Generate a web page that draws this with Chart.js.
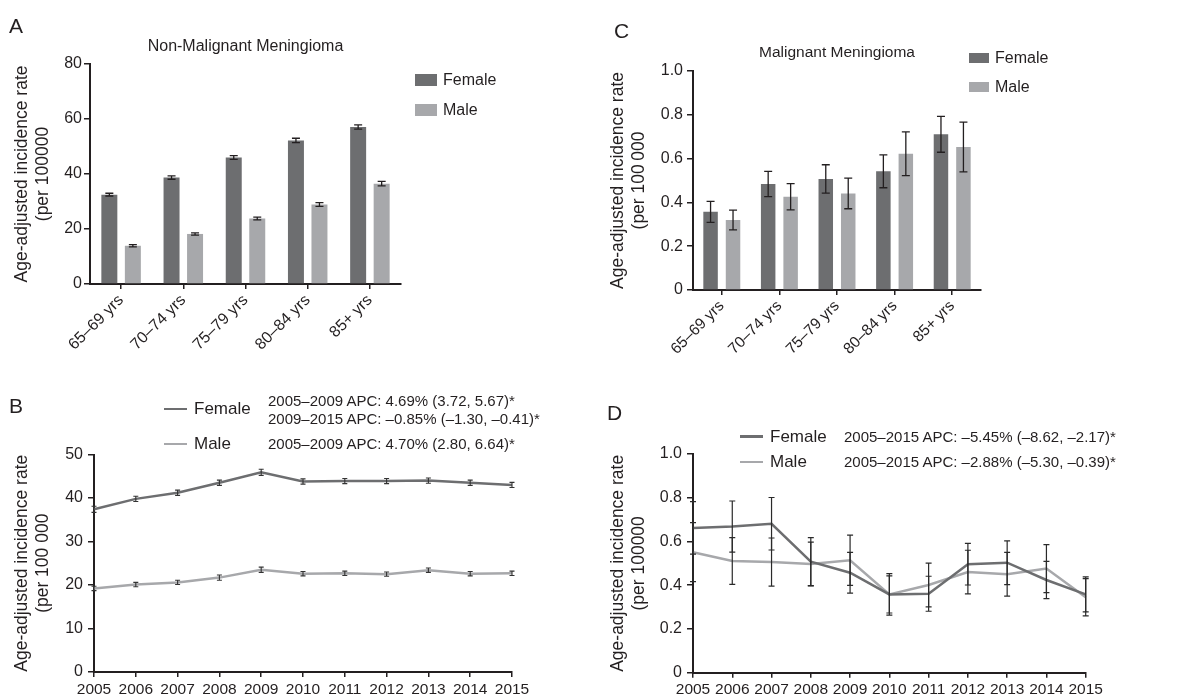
<!DOCTYPE html>
<html>
<head>
<meta charset="utf-8">
<script src="https://cdn.jsdelivr.net/npm/chart.js@4.4.1/dist/chart.umd.min.js"></script>
<style>
body { margin: 0; background: #fff; font-family: "Liberation Sans", Arial, sans-serif; }
#wrap { position: relative; width: 1177px; height: 700px; overflow: hidden; }
canvas { position: absolute; }
.t { position: absolute; transform: translateY(-50%); line-height: 1.2; white-space: nowrap; color: #231f20; }
.letter { position: absolute; font-size: 21px; line-height: 1; color: #231f20; }
.box { position: absolute; }
</style>
</head>
<body>
<div id="wrap">
  <canvas id="cA" width="580" height="380" style="left:0;top:0"></canvas>
  <canvas id="cC" width="597" height="380" style="left:580px;top:0"></canvas>
  <canvas id="cB" width="580" height="320" style="left:0;top:380px"></canvas>
  <canvas id="cD" width="597" height="320" style="left:580px;top:380px"></canvas>
  <div class="letter" style="left:9px;top:15px">A</div>
  <div class="letter" style="left:614px;top:20px">C</div>
  <div class="letter" style="left:9px;top:395px">B</div>
  <div class="letter" style="left:607px;top:402px">D</div>
</div>
<script>
// categories
var ageGroups = ['65–69 yrs', '70–74 yrs', '75–79 yrs', '80–84 yrs', '85+ yrs'];
var years = ['2005', '2006', '2007', '2008', '2009', '2010', '2011', '2012', '2013', '2014', '2015'];
var seriesNames = ['Female', 'Male'];

// A: non-malignant by age
var nonMalFemale = [32.5, 38.7, 46.0, 52.2, 57.1];
var nonMalMale = [13.9, 18.2, 23.8, 28.9, 36.5];
var nonMalFemaleErr = [0.5, 0.6, 0.7, 0.8, 0.8];
var nonMalMaleErr = [0.4, 0.4, 0.5, 0.7, 0.8];

// C: malignant by age
var malFemale = [0.357, 0.484, 0.507, 0.542, 0.711];
var malMale = [0.320, 0.426, 0.441, 0.622, 0.653];
var malFemaleErr = [0.048, 0.058, 0.065, 0.075, 0.082];
var malMaleErr = [0.045, 0.060, 0.070, 0.100, 0.114];

// B: non-malignant trend
var trendNonMalFemale = [37.4, 39.8, 41.2, 43.5, 45.9, 43.8, 43.9, 43.9, 44.0, 43.5, 43.0];
var trendNonMalMale = [19.2, 20.1, 20.6, 21.7, 23.5, 22.6, 22.7, 22.5, 23.4, 22.6, 22.7];
var trendNonMalFemaleErr = [0.7, 0.6, 0.6, 0.6, 0.7, 0.6, 0.6, 0.6, 0.6, 0.6, 0.6];
var trendNonMalMaleErr = [0.5, 0.5, 0.5, 0.6, 0.6, 0.5, 0.5, 0.5, 0.5, 0.5, 0.5];

// D: malignant trend
var trendMalFemale = [0.662, 0.668, 0.681, 0.508, 0.457, 0.358, 0.361, 0.496, 0.503, 0.424, 0.358];
var trendMalMale = [0.551, 0.511, 0.506, 0.497, 0.514, 0.358, 0.401, 0.460, 0.450, 0.476, 0.345];
var trendMalFemaleErr = [0.120, 0.117, 0.120, 0.110, 0.093, 0.085, 0.080, 0.095, 0.100, 0.085, 0.080];
var trendMalMaleErr = [0.135, 0.107, 0.110, 0.100, 0.115, 0.095, 0.100, 0.100, 0.100, 0.110, 0.085];

// tick labels
var ticksA = ['0', '20', '40', '60', '80'];
var ticksB = ['0', '10', '20', '30', '40', '50'];
var ticksFrac = ['0', '0.2', '0.4', '0.6', '0.8', '1.0'];

// APC notes
var apcB = [['2005–2009 APC: 4.69% (3.72, 5.67)*', '2009–2015 APC: –0.85% (–1.30, –0.41)*'], ['2005–2009 APC: 4.70% (2.80, 6.64)*']];
var apcD = [['2005–2015 APC: –5.45% (–8.62, –2.17)*'], ['2005–2015 APC: –2.88% (–5.30, –0.39)*']];

var yTitleA = ['Age-adjusted incidence rate', '(per 100000'];
var yTitleB = ['Age-adjusted incidence rate', '(per 100 000'];
var yTitleC = ['Age-adjusted incidence rate', '(per 100\u2009000'];
var yTitleD = ['Age-adjusted incidence rate', '(per 100000'];

var ink = '#231f20';
var femaleCol = '#6d6e70';
var maleCol = '#a7a8ab';

Chart.defaults.font.family = "'Liberation Sans', Arial, sans-serif";
Chart.defaults.color = ink;

// error bars drawn from the y scale
var errorBars = {
    id: 'errorBars',
    afterDatasetsDraw: function(chart, args, opts) {
        var ctx = chart.ctx, y = chart.scales.y;
        chart.data.datasets.forEach(function(ds, i) {
            if (!ds.errors) return;
            var meta = chart.getDatasetMeta(i);
            ctx.save();
            ctx.strokeStyle = opts.color;
            ctx.lineWidth = opts.width;
            meta.data.forEach(function(el, j) {
                var top = y.getPixelForValue(ds.data[j] + ds.errors[j]);
                var bot = y.getPixelForValue(ds.data[j] - ds.errors[j]);
                ctx.beginPath();
                ctx.moveTo(el.x, top); ctx.lineTo(el.x, bot);
                ctx.moveTo(el.x - opts.cap, top); ctx.lineTo(el.x + opts.cap, top);
                ctx.moveTo(el.x - opts.cap, bot); ctx.lineTo(el.x + opts.cap, bot);
                ctx.stroke();
            });
            ctx.restore();
        });
    }
};

// box = plot area inside the canvas: left, top, right, bottom
function makeChart(id, type, labels, datasets, box, cfg) {
    var cv = document.getElementById(id);
    var W = cv.width, H = cv.height;
    var opts = {
        responsive: false,
        animation: false,
        devicePixelRatio: 1,
        layout: { padding: { left: 0, top: cfg.title ? 0 : box[1], right: W - box[2], bottom: 0 } },
        plugins: {
            legend: { display: false },
            tooltip: { enabled: false },
            title: cfg.title ? {
                display: true, text: cfg.title, fullSize: false, color: ink,
                font: { size: cfg.titleSize, weight: 'normal' },
                padding: { top: cfg.titlePad, bottom: box[1] - cfg.titlePad - cfg.titleSize * 1.2 }
            } : { display: false },
            errorBars: cfg.err
        },
        scales: {
            x: {
                ticks: { maxRotation: cfg.rot, minRotation: cfg.rot, autoSkip: false, padding: cfg.xPad, font: { size: cfg.xSize } },
                grid: { offset: false, drawOnChartArea: false, tickLength: 5, color: ink, lineWidth: 1.5 },
                border: { color: ink, width: 2 },
                afterFit: function(s) { s.height = H - box[3]; }
            },
            y: {
                min: 0, max: cfg.max,
                ticks: { stepSize: cfg.step, padding: cfg.yPad, font: { size: 16 },
                    callback: function(v, i) { return cfg.ticks[i]; } },
                grid: { drawOnChartArea: false, tickLength: 6, color: ink, lineWidth: 1.5 },
                border: { color: ink, width: 2 },
                title: { display: true, text: cfg.yTitle, color: ink, font: { size: 17.5 }, padding: { top: cfg.yTitlePad, bottom: 0 } },
                afterFit: function(s) { s.width = box[0]; }
            }
        }
    };
    return new Chart(cv, { type: type, data: { labels: labels, datasets: datasets }, options: opts, plugins: [errorBars] });
}

function barSet(name, data, err, col, cat, bar) {
    return { label: name, data: data, errors: err, backgroundColor: col, borderWidth: 0, categoryPercentage: cat, barPercentage: bar };
}
function lineSet(name, data, err, col) {
    return { label: name, data: data, errors: err, borderColor: col, borderWidth: 2.5, pointRadius: 0, tension: 0, fill: false };
}

makeChart('cA', 'bar', ageGroups, [
    barSet(seriesNames[0], nonMalFemale, nonMalFemaleErr, femaleCol, 0.756, 0.68),
    barSet(seriesNames[1], nonMalMale, nonMalMaleErr, maleCol, 0.756, 0.68)
], [90, 64, 401, 284], { title: 'Non-Malignant Meningioma', titleSize: 16, titlePad: 37, max: 80, step: 20, ticks: ticksA,
    yTitle: yTitleA, yTitlePad: 12, yPad: 2, rot: 45, xPad: 2, xSize: 16, err: { color: ink, width: 1.3, cap: 4 } });

makeChart('cC', 'bar', ageGroups, [
    barSet(seriesNames[0], malFemale, malFemaleErr, femaleCol, 0.78, 0.645),
    barSet(seriesNames[1], malMale, malMaleErr, maleCol, 0.78, 0.645)
], [113, 71, 401, 290], { title: 'Malignant Meningioma', titleSize: 15.5, titlePad: 43.7, max: 1.0, step: 0.2, ticks: ticksFrac,
    yTitle: yTitleC, yTitlePad: 28, yPad: 4, rot: 45, xPad: 2, xSize: 15.5, err: { color: ink, width: 1.3, cap: 4 } });

makeChart('cB', 'line', years, [
    lineSet(seriesNames[0], trendNonMalFemale, trendNonMalFemaleErr, femaleCol),
    lineSet(seriesNames[1], trendNonMalMale, trendNonMalMaleErr, maleCol)
], [94, 74.5, 512, 292], { max: 50, step: 10, ticks: ticksB,
    yTitle: yTitleB, yTitlePad: 12, yPad: 5, rot: 0, xPad: 3, xSize: 15.5, err: { color: '#333', width: 1.1, cap: 2.5 } });

makeChart('cD', 'line', years, [
    lineSet(seriesNames[0], trendMalFemale, trendMalFemaleErr, femaleCol),
    lineSet(seriesNames[1], trendMalMale, trendMalMaleErr, maleCol)
], [113, 74, 505.7, 292.7], { max: 1.0, step: 0.2, ticks: ticksFrac,
    yTitle: yTitleD, yTitlePad: 28, yPad: 5, rot: 0, xPad: 3, xSize: 15.5, err: { color: '#2a2a2a', width: 1.2, cap: 3 } });

// legends and notes
var wrap = document.getElementById('wrap');
function addText(txt, x, y, size) {
    var d = document.createElement('div');
    d.className = 't';
    d.textContent = txt;
    d.style.left = x + 'px';
    d.style.top = y + 'px';
    d.style.fontSize = size + 'px';
    wrap.appendChild(d);
}
function addBox(x, y, w, h, col) {
    var d = document.createElement('div');
    d.className = 'box';
    d.style.cssText = 'left:' + x + 'px;top:' + y + 'px;width:' + w + 'px;height:' + h + 'px;background:' + col;
    wrap.appendChild(d);
}
var cols = [femaleCol, maleCol];

// A legend
[80, 109.5].forEach(function(cy, i) {
    addBox(415, cy - 6, 22, 12, cols[i]);
    addText(seriesNames[i], 443, cy, 16);
});
// C legend
[57.5, 87].forEach(function(cy, i) {
    addBox(969, cy - 5, 20, 10, cols[i]);
    addText(seriesNames[i], 995, cy, 16);
});
// B legend
[[409, [401, 419]], [444, [444]]].forEach(function(row, i) {
    addBox(164, row[0] - 1.5, 23, 2.5, cols[i]);
    addText(seriesNames[i], 194, row[0], 17);
    apcB[i].forEach(function(s, k) { addText(s, 268, row[1][k], 15); });
});
// D legend
[436.5, 462].forEach(function(cy, i) {
    addBox(740, cy - 1.5, 23, 2.5, cols[i]);
    addText(seriesNames[i], 770, cy, 17);
    addText(apcD[i][0], 844, cy, 15);
});
</script>
</body>
</html>
